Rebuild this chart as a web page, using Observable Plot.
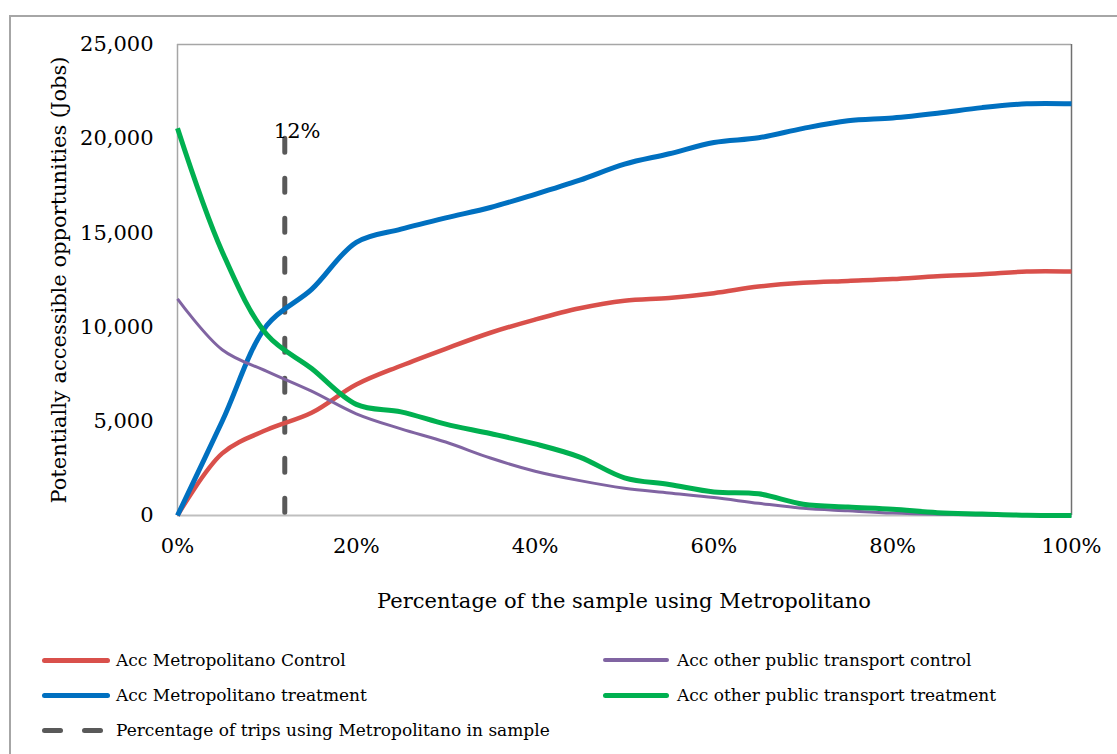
<!DOCTYPE html>
<html>
<head>
<meta charset="utf-8">
<script src="https://cdn.jsdelivr.net/npm/d3@7"></script>
<script src="https://cdn.jsdelivr.net/npm/@observablehq/plot@0.6"></script>
<style>
  html, body { margin: 0; padding: 0; background: #fff; width: 1117px; height: 754px; overflow: hidden; }
  #frame { position: absolute; left: 9px; top: 15px; width: 1200px; height: 800px;
           border-left: 2px solid #a6a6a6; border-top: 2px solid #a6a6a6; box-sizing: border-box; }
  #chart { position: absolute; left: 0; top: 0; }
  .leg { position: absolute; font-family: "DejaVu Serif", serif; font-size: 17px; color: #000; white-space: nowrap; }
  .sw { position: absolute; height: 5px; border-radius: 3px; }
  .lbl { position: absolute; line-height: 20px; }
</style>
</head>
<body>
<div id="frame"></div>
<div id="chart"></div>
<div id="legend" class="leg"></div>
<script>
// ---- data ----
const share = [0, 0.05, 0.10, 0.15, 0.20, 0.25, 0.30, 0.35, 0.40, 0.45, 0.50,
               0.55, 0.60, 0.65, 0.70, 0.75, 0.80, 0.85, 0.90, 0.95, 1.00];
const metroControl = [0, 3300, 4550, 5450, 6950, 7950, 8850, 9700, 10400, 11000, 11400,
                      11550, 11800, 12150, 12350, 12450, 12550, 12700, 12800, 12950, 12950];
const metroTreatment = [0, 5000, 10100, 12000, 14500, 15200, 15800, 16350, 17050, 17800, 18650,
                        19200, 19800, 20050, 20550, 20950, 21100, 21350, 21650, 21850, 21850];
const otherControl = [11500, 8800, 7650, 6600, 5400, 4600, 3900, 3050, 2350, 1850, 1450,
                      1200, 950, 650, 380, 250, 130, 60, 20, 0, 0];
const otherTreatment = [20550, 14000, 9600, 7800, 5900, 5500, 4850, 4350, 3800, 3100, 2000,
                        1650, 1250, 1150, 600, 450, 330, 150, 80, 10, 0];
const sampleShare = 0.12;
const sampleTop = 20000;
const sampleLabel = "12%";
const xTicks = [0, 0.2, 0.4, 0.6, 0.8, 1.0];
const yTicks = [0, 5000, 10000, 15000, 20000, 25000];

const seriesNames = ["Acc Metropolitano Control", "Acc Metropolitano treatment",
                     "Acc other public transport control", "Acc other public transport treatment"];
const sampleName = "Percentage of trips using Metropolitano in sample";
const seriesColors = ["#d9504b", "#0070c0", "#8064a2", "#00b050"];
const seriesWidths = [4.5, 5, 3, 5];
const seriesValues = [metroControl, metroTreatment, otherControl, otherTreatment];

const xTitle = "Percentage of the sample using Metropolitano";
const yTitle = "Potentially accessible opportunities (Jobs)";

// ---- build rows ----
const rows = (vals) => share.map((s, i) => ({x: s, y: vals[i]}));

const lineMarks = seriesValues.map((vals, k) =>
  Plot.line(rows(vals), {x: "x", y: "y", stroke: seriesColors[k], strokeWidth: seriesWidths[k],
    curve: "catmull-rom", strokeLinecap: "butt", strokeLinejoin: "round"}));

const plot = Plot.plot({
  width: 1117, height: 630,
  marginLeft: 177, marginRight: 46, marginTop: 44, marginBottom: 115,
  style: {fontFamily: "DejaVu Serif, serif", fontSize: "21px", color: "#000", background: "transparent", overflow: "visible"},
  x: {domain: [0, 1], ticks: xTicks, tickFormat: d3.format(".0%"), tickSize: 0, tickPadding: 23, label: null},
  y: {domain: [0, 25000], ticks: yTicks, tickFormat: d3.format(","), tickSize: 0, tickPadding: 24, label: null},
  marks: [
    Plot.ruleY([25000], {stroke: "#a6a6a6", strokeWidth: 1.5}),
    Plot.ruleX([0], {stroke: "#a6a6a6", strokeWidth: 1.5}),
    Plot.ruleX([1], {stroke: "#707070", strokeWidth: 1.5}),
    Plot.ruleY([0], {stroke: "#bfbfbf", strokeWidth: 2}),
    Plot.ruleX([sampleShare], {y1: sampleTop, y2: 0, stroke: "#595959", strokeWidth: 5,
      strokeDasharray: "14,26", strokeLinecap: "round"}),
    ...lineMarks,
    Plot.text([sampleLabel], {x: sampleShare, y: sampleTop, text: d => d, textAnchor: "start",
      dx: -11, dy: -7, lineAnchor: "middle", fontSize: 21, fill: "#000"})
  ]
});

const svg = d3.select(plot);
svg.append("text")
  .attr("x", 624).attr("y", 608)
  .attr("text-anchor", "middle")
  .attr("font-family", "DejaVu Serif, serif").attr("font-size", 21).attr("fill", "#000")
  .text(xTitle);
svg.append("text")
  .attr("transform", "translate(66,280) rotate(-90)")
  .attr("text-anchor", "middle")
  .attr("font-family", "DejaVu Serif, serif").attr("font-size", 21).attr("fill", "#000")
  .text(yTitle);

document.getElementById("chart").appendChild(plot);

// ---- legend ----
const legend = document.getElementById("legend");
const legendItems = [
  {name: seriesNames[0], color: seriesColors[0], lx: 42, tx: 116, y: 660, w: 68},
  {name: seriesNames[2], color: seriesColors[2], lx: 603, tx: 677, y: 660, w: 66},
  {name: seriesNames[1], color: seriesColors[1], lx: 42, tx: 116, y: 695, w: 68},
  {name: seriesNames[3], color: seriesColors[3], lx: 603, tx: 677, y: 695, w: 66},
];
legendItems.forEach(it => {
  const sw = document.createElement("div");
  sw.className = "sw";
  sw.style.left = it.lx + "px"; sw.style.top = (it.y - 2.5) + "px";
  sw.style.width = it.w + "px"; sw.style.background = it.color;
  if (it.color === seriesColors[2]) { sw.style.height = "4px"; sw.style.top = (it.y - 2) + "px"; }
  legend.appendChild(sw);
  const t = document.createElement("div");
  t.className = "lbl";
  t.style.left = it.tx + "px"; t.style.top = (it.y - 10) + "px";
  t.textContent = it.name;
  legend.appendChild(t);
});
// dashed sample
[[42, 21], [82, 21]].forEach(([x, w]) => {
  const sw = document.createElement("div");
  sw.className = "sw";
  sw.style.left = x + "px"; sw.style.top = (730 - 2.5) + "px";
  sw.style.width = w + "px"; sw.style.background = "#595959";
  legend.appendChild(sw);
});
const t3 = document.createElement("div");
t3.className = "lbl";
t3.style.left = "116px"; t3.style.top = (730 - 10) + "px";
t3.textContent = sampleName;
legend.appendChild(t3);
</script>
</body>
</html>
